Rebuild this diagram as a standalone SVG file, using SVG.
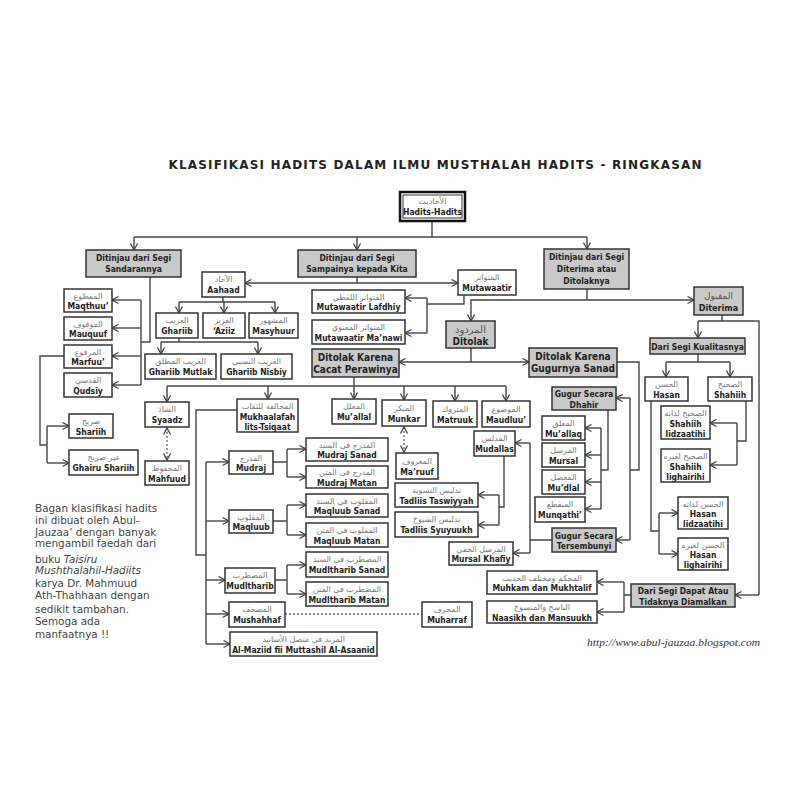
<svg xmlns="http://www.w3.org/2000/svg" width="800" height="800" viewBox="0 0 800 800">
<defs>
<style>
.b{fill:#fff;stroke:#333;stroke-width:1.5}
.g{fill:#c9c9c9;stroke:#333;stroke-width:1.5}
.en{font-family:"DejaVu Sans Condensed","Liberation Sans",sans-serif;font-weight:bold;font-size:8.5px;fill:#222;text-anchor:middle}
.big{font-size:10px}
.ar{font-family:"DejaVu Sans","Noto Sans",sans-serif;font-size:8px;fill:#777;text-anchor:middle}
.c{fill:none;stroke:#444;stroke-width:1.4}
.a{marker-end:url(#arr)}
.d{fill:none;stroke:#666;stroke-width:1.3;stroke-dasharray:2 2}
.note{font-family:"DejaVu Sans",sans-serif;font-size:10.4px;fill:#444}
</style>
<marker id="arr" markerUnits="userSpaceOnUse" markerWidth="9" markerHeight="9" refX="8" refY="4.5" orient="auto-start-reverse">
<path d="M1.5,1 L8,4.5 L1.5,8" fill="none" stroke="#444" stroke-width="1.3"/>
</marker>
</defs>
<rect width="800" height="800" fill="#fff"/>
<text x="435" y="169" font-family="DejaVu Sans,sans-serif" font-weight="bold" font-size="12px" fill="#222" text-anchor="middle" textLength="533" lengthAdjust="spacing">KLASIFIKASI HADITS DALAM ILMU MUSTHALAH HADITS - RINGKASAN</text>

<g id="connectors">
<path class="c" d="M432,221 V237 M134,237 H587"/>
<path class="c a" d="M134,237 V250"/>
<path class="c a" d="M357,237 V250"/>
<path class="c a" d="M587,237 V249"/>
<path class="c" d="M150,277 V342 H141 M141,300 V385"/>
<path class="c a" d="M141,300 H112"/>
<path class="c a" d="M141,328 H112"/>
<path class="c a" d="M141,356 H112"/>
<path class="c a" d="M141,385 H112"/>
<path class="c" d="M64,356 H40 V445 H47 M47,426 V463"/>
<path class="c a" d="M47,426 H69"/>
<path class="c a" d="M47,463 H69"/>
<path class="c" d="M357,277 V283"/>
<path class="c a" d="M357,283 H245"/>
<path class="c a" d="M357,283 H458"/>
<path class="c" d="M223,297 V302 M179,302 H275"/>
<path class="c a" d="M179,302 V313"/>
<path class="c a" d="M224,302 V313"/>
<path class="c a" d="M275,302 V313"/>
<path class="c" d="M179,338 V342 M161,342 H258"/>
<path class="c a" d="M161,342 V354"/>
<path class="c a" d="M258,342 V354"/>
<path class="c" d="M464,295 V304 H427 M427,298 V333"/>
<path class="c a" d="M427,298 H405"/>
<path class="c a" d="M427,333 H405"/>
<path class="c" d="M587,289 V300"/>
<path class="c a" d="M587,300 H694"/>
<path class="c a" d="M587,300 H471 V321"/>
<path class="c" d="M471,348 V362"/>
<path class="c a" d="M471,362 H399"/>
<path class="c a" d="M471,362 H529"/>
<path class="c" d="M722,315 V321 M698,321 H759 V595"/>
<path class="c a" d="M698,321 V338"/>
<path class="c a" d="M759,595 H735"/>
<path class="c" d="M698,354 V362 M666,362 H730"/>
<path class="c a" d="M666,362 V377"/>
<path class="c a" d="M730,362 V377"/>
<path class="c" d="M746,401 V441 H737 M737,423 V465"/>
<path class="c a" d="M737,423 H710"/>
<path class="c a" d="M737,465 H710"/>
<path class="c" d="M651,401 V531 H659 M659,513 V554"/>
<path class="c a" d="M659,513 H678"/>
<path class="c a" d="M659,554 H678"/>
<path class="c" d="M354,377 V386 M167,386 H506"/>
<path class="c a" d="M167,386 V402"/>
<path class="c a" d="M268,386 V399"/>
<path class="c a" d="M354,386 V399"/>
<path class="c a" d="M404,386 V400"/>
<path class="c a" d="M455,386 V401"/>
<path class="c a" d="M506,386 V401"/>
<path class="d" d="M167,428 V460" marker-start="url(#arr)" marker-end="url(#arr)"/>
<path class="d" d="M404,427 V452" marker-start="url(#arr)" marker-end="url(#arr)"/>
<path class="c" d="M237,410 H196 V555 H206 M206,462 V644"/>
<path class="c a" d="M206,462 H229"/>
<path class="c a" d="M206,521 H229"/>
<path class="c a" d="M206,580 H225"/>
<path class="c a" d="M206,614 H229"/>
<path class="c a" d="M206,644 H230"/>
<path class="c" d="M273,462 H287 M287,449 V477"/>
<path class="c a" d="M287,449 H306"/>
<path class="c a" d="M287,477 H306"/>
<path class="c" d="M273,521 H287 M287,505 V535"/>
<path class="c a" d="M287,505 H306"/>
<path class="c a" d="M287,535 H306"/>
<path class="c" d="M275,580 H287 M287,565 V594"/>
<path class="c a" d="M287,565 H306"/>
<path class="c a" d="M287,594 H306"/>
<path class="d" d="M285,614 H422"/>
<path class="c" d="M617,362 H639 V470 H630 M630,398 V540"/>
<path class="c a" d="M630,398 H616"/>
<path class="c a" d="M630,540 H616"/>
<path class="c" d="M608,410 V470 H601 M601,428 V509"/>
<path class="c a" d="M601,428 H585"/>
<path class="c a" d="M601,455 H585"/>
<path class="c a" d="M601,482 H585"/>
<path class="c a" d="M601,509 H585"/>
<path class="c" d="M552,540 H530 M530,443 V553"/>
<path class="c a" d="M530,443 H515"/>
<path class="c a" d="M530,553 H513"/>
<path class="c" d="M504,456 V507 H499 M499,495 V525"/>
<path class="c a" d="M499,495 H478"/>
<path class="c a" d="M499,525 H478"/>
<path class="c" d="M631,595 H624 M624,582 V612"/>
<path class="c a" d="M624,582 H597"/>
<path class="c a" d="M624,612 H597"/>
</g>

<g id="n-root"><rect x="400" y="192" width="65" height="29" fill="#fff" stroke="#111" stroke-width="2.5"/><rect x="403" y="195" width="59" height="23" fill="none" stroke="#333" stroke-width="1"/><text class="ar" x="432.5" y="204">الأحاديث</text><text class="en" x="432.5" y="215">Hadits-Hadits</text></g>
<g id="n-sandaran"><rect class="g" x="86" y="250" width="95" height="27"/><text class="en" x="133.5" y="261">Ditinjau dari Segi</text><text class="en" x="133.5" y="272">Sandarannya</text></g>
<g id="n-sampainya"><rect class="g" x="298" y="250" width="118" height="27"/><text class="en" x="357" y="261">Ditinjau dari Segi</text><text class="en" x="357" y="272">Sampainya kepada Kita</text></g>
<g id="n-diterima-atau"><rect class="g" x="544" y="249" width="85" height="40"/><text class="en" x="586.5" y="260">Ditinjau dari Segi</text><text class="en" x="586.5" y="272">Diterima atau</text><text class="en" x="586.5" y="284">Ditolaknya</text></g>

<g id="n-maqthuu"><rect class="b" x="64" y="289" width="48" height="23"/><text class="ar" x="88" y="298.5">المقطوع</text><text class="en" x="88" y="309">Maqthuu’</text></g>
<g id="n-mauquuf"><rect class="b" x="64" y="317" width="48" height="23"/><text class="ar" x="88" y="326.5">الموقوف</text><text class="en" x="88" y="337">Mauquuf</text></g>
<g id="n-marfuu"><rect class="b" x="64" y="345" width="48" height="23"/><text class="ar" x="88" y="354.5">المرفوع</text><text class="en" x="88" y="365">Marfuu’</text></g>
<g id="n-qudsiy"><rect class="b" x="64" y="373" width="48" height="24"/><text class="ar" x="88" y="382.5">القدسي</text><text class="en" x="88" y="393.5">Qudsiy</text></g>
<g id="n-shariih"><rect class="b" x="69" y="414" width="44" height="24"/><text class="ar" x="91" y="424">صريح</text><text class="en" x="91" y="434.5">Shariih</text></g>
<g id="n-ghairu-shariih"><rect class="b" x="69" y="450" width="69" height="25"/><text class="ar" x="103.5" y="460">غير صريح</text><text class="en" x="103.5" y="471">Ghairu Shariih</text></g>

<g id="n-aahaad"><rect class="b" x="202" y="272" width="43" height="25"/><text class="ar" x="223.5" y="282">الآحاد</text><text class="en" x="223.5" y="293">Aahaad</text></g>
<g id="n-mutawaatir"><rect class="b" x="458" y="270" width="58" height="25"/><text class="ar" x="487" y="280">المتواتر</text><text class="en" x="487" y="291">Mutawaatir</text></g>
<g id="n-ghariib"><rect class="b" x="156" y="313" width="42" height="25"/><text class="ar" x="177" y="323">الغريب</text><text class="en" x="177" y="334">Ghariib</text></g>
<g id="n-aziiz"><rect class="b" x="203" y="313" width="42" height="25"/><text class="ar" x="224" y="323">العزيز</text><text class="en" x="224" y="334">‘Aziiz</text></g>
<g id="n-masyhuur"><rect class="b" x="249" y="313" width="49" height="25"/><text class="ar" x="273.5" y="323">المشهور</text><text class="en" x="273.5" y="334">Masyhuur</text></g>
<g id="n-ghariib-mutlak"><rect class="b" x="145" y="354" width="71" height="25"/><text class="ar" x="180.5" y="364">الغريب المطلق</text><text class="en" x="180.5" y="375">Ghariib Mutlak</text></g>
<g id="n-ghariib-nisbiy"><rect class="b" x="221" y="354" width="71" height="25"/><text class="ar" x="256.5" y="364">الغريب النسبي</text><text class="en" x="256.5" y="375">Ghariib Nisbiy</text></g>
<g id="n-lafdhiy"><rect class="b" x="312" y="290" width="93" height="23"/><text class="ar" x="358.5" y="299.5">المتواتر اللفظي</text><text class="en" x="358.5" y="310">Mutawaatir Lafdhiy</text></g>
<g id="n-manawi"><rect class="b" x="312" y="320" width="93" height="24"/><text class="ar" x="358.5" y="330">المتواتر المعنوي</text><text class="en" x="358.5" y="340.5">Mutawaatir Ma’nawi</text></g>

<g id="n-ditolak"><rect class="g" x="446" y="321" width="49" height="27"/><text class="ar" x="470.5" y="333" style="font-size:10px;fill:#555">المردود</text><text class="en big" x="470.5" y="344.5">Ditolak</text></g>
<g id="n-diterima"><rect class="g" x="694" y="287" width="49" height="28"/><text class="ar" x="718.5" y="298.5" style="font-size:9px;fill:#555">المقبول</text><text class="en" x="718.5" y="310.5" style="font-size:9px">Diterima</text></g>
<g id="n-cacat"><rect class="g" x="312" y="349" width="87" height="28"/><text class="en big" x="355.5" y="360.5">Ditolak Karena</text><text class="en big" x="355.5" y="372.5">Cacat Perawinya</text></g>
<g id="n-gugurnya"><rect class="g" x="529" y="348" width="88" height="29"/><text class="en big" x="573" y="360">Ditolak Karena</text><text class="en big" x="573" y="372">Gugurnya Sanad</text></g>

<g id="n-kualitas"><rect class="g" x="650" y="338" width="95" height="16"/><text class="en" x="697.5" y="349.5">Dari Segi Kualitasnya</text></g>
<g id="n-hasan"><rect class="b" x="645" y="377" width="43" height="24"/><text class="ar" x="666.5" y="387">الحسن</text><text class="en" x="666.5" y="397.5">Hasan</text></g>
<g id="n-shahiih"><rect class="b" x="708" y="377" width="44" height="24"/><text class="ar" x="730" y="387">الصحيح</text><text class="en" x="730" y="397.5">Shahiih</text></g>
<g id="n-shahiih-lidzaatihi"><rect class="b" x="661" y="406" width="49" height="33"/><text class="ar" x="685.5" y="416">الصحيح لذاته</text><text class="en" x="685.5" y="426.5">Shahiih</text><text class="en" x="685.5" y="436.5">lidzaatihi</text></g>
<g id="n-shahiih-lighairihi"><rect class="b" x="661" y="449" width="49" height="33"/><text class="ar" x="685.5" y="459">الصحيح لغيره</text><text class="en" x="685.5" y="469.5">Shahiih</text><text class="en" x="685.5" y="479.5">lighairihi</text></g>
<g id="n-hasan-lidzaatihi"><rect class="b" x="678" y="497" width="50" height="32"/><text class="ar" x="703" y="507">الحسن لذاته</text><text class="en" x="703" y="517">Hasan</text><text class="en" x="703" y="527">lidzaatihi</text></g>
<g id="n-hasan-lighairihi"><rect class="b" x="678" y="538" width="50" height="32"/><text class="ar" x="703" y="548">الحسن لغيره</text><text class="en" x="703" y="558">Hasan</text><text class="en" x="703" y="568">lighairihi</text></g>

<g id="n-dhahir"><rect class="g" x="552" y="387" width="64" height="23"/><text class="en" x="584" y="397">Gugur Secara</text><text class="en" x="584" y="407.5">Dhahir</text></g>
<g id="n-muallaq"><rect class="b" x="542" y="416" width="43" height="24"/><text class="ar" x="563.5" y="426">المعلق</text><text class="en" x="563.5" y="436.5">Mu’allaq</text></g>
<g id="n-mursal"><rect class="b" x="542" y="443" width="43" height="24"/><text class="ar" x="563.5" y="453">المرسل</text><text class="en" x="563.5" y="463.5">Mursal</text></g>
<g id="n-mudlal"><rect class="b" x="542" y="470" width="43" height="24"/><text class="ar" x="563.5" y="480">المعضل</text><text class="en" x="563.5" y="490.5">Mu’dlal</text></g>
<g id="n-munqathi"><rect class="b" x="535" y="497" width="50" height="25"/><text class="ar" x="560" y="507">المنقطع</text><text class="en" x="560" y="518">Munqathi’</text></g>
<g id="n-tersembunyi"><rect class="g" x="552" y="528" width="64" height="24"/><text class="en" x="584" y="538.5">Gugur Secara</text><text class="en" x="584" y="549">Tersembunyi</text></g>
<g id="n-mursal-khafiy"><rect class="b" x="449" y="542" width="64" height="23"/><text class="ar" x="481" y="551.5">المرسل الخفي</text><text class="en" x="481" y="562">Mursal Khafiy</text></g>
<g id="n-mudallas"><rect class="b" x="474" y="431" width="41" height="25"/><text class="ar" x="494.5" y="441">المدلس</text><text class="en" x="494.5" y="452">Mudallas</text></g>
<g id="n-taswiyyah"><rect class="b" x="395" y="483" width="83" height="24"/><text class="ar" x="436.5" y="493">تدليس التسوية</text><text class="en" x="436.5" y="503.5">Tadliis Taswiyyah</text></g>
<g id="n-syuyuukh"><rect class="b" x="395" y="512" width="83" height="25"/><text class="ar" x="436.5" y="522">تدليس الشيوخ</text><text class="en" x="436.5" y="533">Tadliis Syuyuukh</text></g>

<g id="n-syaadz"><rect class="b" x="145" y="402" width="44" height="25"/><text class="ar" x="167" y="412">الشاذ</text><text class="en" x="167" y="423">Syaadz</text></g>
<g id="n-mahfuud"><rect class="b" x="145" y="461" width="44" height="24"/><text class="ar" x="167" y="471">المحفوظ</text><text class="en" x="167" y="481.5">Mahfuud</text></g>
<g id="n-mukhaalafah"><rect class="b" x="237" y="399" width="61" height="33"/><text class="ar" x="267.5" y="409">المخالفة للثقات</text><text class="en" x="267.5" y="419.5">Mukhaalafah</text><text class="en" x="267.5" y="429.5">lits-Tsiqaat</text></g>
<g id="n-muallal"><rect class="b" x="332" y="399" width="44" height="25"/><text class="ar" x="354" y="409">المعلل</text><text class="en" x="354" y="420">Mu’allal</text></g>
<g id="n-munkar"><rect class="b" x="382" y="400" width="44" height="26"/><text class="ar" x="404" y="410.5">المنكر</text><text class="en" x="404" y="421.5">Munkar</text></g>
<g id="n-maruuf"><rect class="b" x="396" y="453" width="42" height="26"/><text class="ar" x="417" y="463.5">المعروف</text><text class="en" x="417" y="474.5">Ma’ruuf</text></g>
<g id="n-matruuk"><rect class="b" x="433" y="401" width="44" height="26"/><text class="ar" x="455" y="411.5">المتروك</text><text class="en" x="455" y="422.5">Matruuk</text></g>
<g id="n-maudluu"><rect class="b" x="482" y="401" width="48" height="26"/><text class="ar" x="506" y="411.5">الموضوع</text><text class="en" x="506" y="422.5">Maudluu’</text></g>

<g id="n-mudraj"><rect class="b" x="229" y="451" width="44" height="23"/><text class="ar" x="251" y="460.5">المدرج</text><text class="en" x="251" y="471">Mudraj</text></g>
<g id="n-mudraj-sanad"><rect class="b" x="306" y="438" width="82" height="23"/><text class="ar" x="347" y="447.5">المدرج في السند</text><text class="en" x="347" y="458">Mudraj Sanad</text></g>
<g id="n-mudraj-matan"><rect class="b" x="306" y="466" width="82" height="22"/><text class="ar" x="347" y="475">المدرج في المتن</text><text class="en" x="347" y="485.5">Mudraj Matan</text></g>
<g id="n-maqluub"><rect class="b" x="229" y="510" width="44" height="23"/><text class="ar" x="251" y="519.5">المقلوب</text><text class="en" x="251" y="530">Maqluub</text></g>
<g id="n-maqluub-sanad"><rect class="b" x="306" y="494" width="82" height="23"/><text class="ar" x="347" y="503.5">المقلوب في السند</text><text class="en" x="347" y="514">Maqluub Sanad</text></g>
<g id="n-maqluub-matan"><rect class="b" x="306" y="523" width="82" height="24"/><text class="ar" x="347" y="533">المقلوب في المتن</text><text class="en" x="347" y="543.5">Maqluub Matan</text></g>
<g id="n-mudltharib"><rect class="b" x="225" y="568" width="50" height="25"/><text class="ar" x="250" y="578">المضطرب</text><text class="en" x="250" y="589">Mudltharib</text></g>
<g id="n-mudltharib-sanad"><rect class="b" x="306" y="552" width="82" height="25"/><text class="ar" x="347" y="562">المضطرب في السند</text><text class="en" x="347" y="573">Mudltharib Sanad</text></g>
<g id="n-mudltharib-matan"><rect class="b" x="306" y="582" width="82" height="24"/><text class="ar" x="347" y="592">المضطرب في المتن</text><text class="en" x="347" y="602.5">Mudltharib Matan</text></g>
<g id="n-mushahhaf"><rect class="b" x="229" y="602" width="56" height="25"/><text class="ar" x="257" y="612">المصحف</text><text class="en" x="257" y="623">Mushahhaf</text></g>
<g id="n-muharraf"><rect class="b" x="422" y="602" width="50" height="25"/><text class="ar" x="447" y="612">المحرف</text><text class="en" x="447" y="623">Muharraf</text></g>
<g id="n-almaziid"><rect class="b" x="230" y="632" width="147" height="24"/><text class="ar" x="303.5" y="642">المزيد في متصل الأسانيد</text><text class="en" x="303.5" y="652.5">Al-Maziid fii Muttashil Al-Asaanid</text></g>

<g id="n-dapat"><rect class="g" x="631" y="584" width="104" height="23"/><text class="en" x="683" y="594">Dari Segi Dapat Atau</text><text class="en" x="683" y="604.5">Tidaknya Diamalkan</text></g>
<g id="n-muhkam"><rect class="b" x="487" y="571" width="110" height="23"/><text class="ar" x="542" y="580.5">المحكم ومختلف الحديث</text><text class="en" x="542" y="591">Muhkam dan Mukhtalif</text></g>
<g id="n-naasikh"><rect class="b" x="487" y="601" width="110" height="22"/><text class="ar" x="542" y="610">الناسخ والمنسوخ</text><text class="en" x="542" y="620.5">Naasikh dan Mansuukh</text></g>

<g id="footnote" class="note">
<text x="35" y="512">Bagan klasifikasi hadits</text>
<text x="35" y="524">ini dibuat oleh Abul-</text>
<text x="35" y="535.5">Jauzaa’ dengan banyak</text>
<text x="35" y="547">mengambil faedah dari</text>
<text x="35" y="562.5">buku <tspan font-style="italic">Taisiru</tspan></text>
<text x="35" y="574" font-style="italic">Mushthalahil-Hadiits</text>
<text x="35" y="587">karya Dr. Mahmuud</text>
<text x="35" y="599">Ath-Thahhaan dengan</text>
<text x="35" y="612.5">sedikit tambahan.</text>
<text x="35" y="625">Semoga ada</text>
<text x="35" y="638">manfaatnya !!</text>
</g>
<text x="760" y="646" font-family="Liberation Serif,serif" font-style="italic" font-size="11px" fill="#333" text-anchor="end" textLength="173" lengthAdjust="spacingAndGlyphs">http://www.abul-jauzaa.blogspot.com</text>
</svg>
